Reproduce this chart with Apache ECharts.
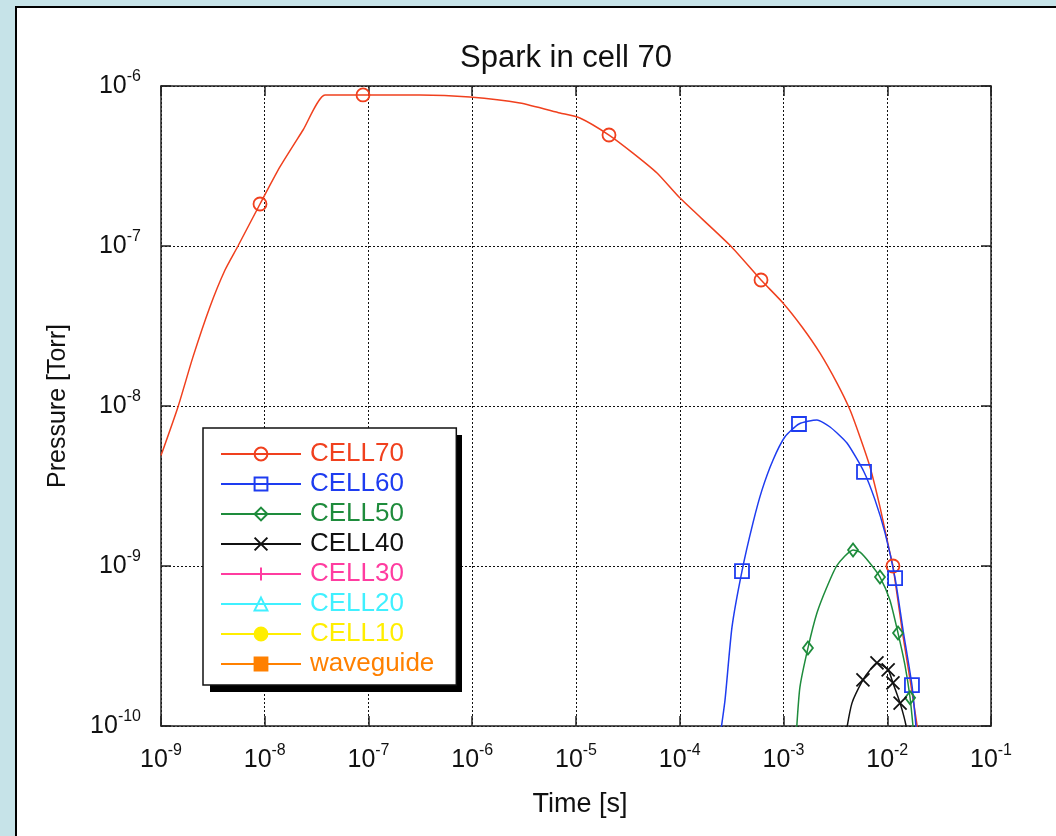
<!DOCTYPE html>
<html>
<head>
<meta charset="utf-8">
<title>Spark in cell 70</title>
<script src="https://cdn.jsdelivr.net/npm/echarts@6/dist/echarts.min.js"></script>
<style>
    html, body { margin: 0; padding: 0; background: #c6e3e8; }
    #chart { width: 1056px; height: 836px; }
</style>
</head>
<body>
<div id="chart"></div>
<script>
// [time s, pressure Torr]
var cell70 = [
    [1.0e-9, 4.9e-9], [1.46e-9, 9.9e-9], [2.03e-9, 2.02e-8], [2.96e-9, 4.16e-8],
    [4.14e-9, 7.08e-8], [5.52e-9, 1.0e-7], [9.0e-9, 1.83e-7], [1.40e-8, 3.12e-7],
    [2.34e-8, 5.31e-7], [3.81e-8, 8.79e-7], [8.85e-8, 8.79e-7], [3.13e-7, 8.8e-7],
    [9.5e-7, 8.54e-7], [2.88e-6, 7.83e-7], [7.01e-6, 6.78e-7], [1.09e-5, 6.31e-7],
    [2.08e-5, 4.94e-7], [3.54e-5, 3.81e-7], [6.04e-5, 2.86e-7], [1.0e-4, 2.0e-7],
    [3.05e-4, 1.01e-7], [6.07e-4, 6.13e-8], [9.88e-4, 4.41e-8], [1.51e-3, 3.12e-8],
    [2.25e-3, 2.14e-8], [3.28e-3, 1.39e-8], [4.38e-3, 9.44e-9], [5.46e-3, 6.40e-9],
    [6.82e-3, 4.16e-9], [8.51e-3, 2.34e-9], [1.06e-2, 1.21e-9], [1.135e-2, 1.0e-9],
    [1.39e-2, 3.98e-10], [1.66e-2, 1.94e-10], [1.94e-2, 1.0e-10], [2.0e-2, 8e-11]
];
var cell60 = [
    [2.47e-4, 9e-11], [2.73e-4, 1.45e-10], [3.19e-4, 4.16e-10], [3.98e-4, 9.3e-10],
    [5.08e-4, 1.86e-9], [6.21e-4, 2.99e-9], [7.93e-4, 4.6e-9], [1.03e-3, 6.40e-9],
    [1.41e-3, 7.72e-9], [2.10e-3, 8.18e-9], [2.81e-3, 7.39e-9], [4.09e-3, 5.87e-9],
    [5.97e-3, 3.87e-9], [7.62e-3, 2.59e-9], [9.52e-3, 1.61e-9], [1.19e-2, 8.41e-10],
    [1.42e-2, 3.98e-10], [1.73e-2, 1.80e-10], [1.89e-2, 1.0e-10], [1.95e-2, 8e-11]
];
var cell50 = [
    [1.33e-3, 9e-11], [1.44e-3, 1.75e-10], [1.72e-3, 3.07e-10], [2.10e-3, 5.08e-10],
    [2.62e-3, 7.39e-10], [3.28e-3, 1.01e-9], [4.68e-3, 1.26e-9], [5.46e-3, 1.22e-9],
    [6.82e-3, 1.04e-9], [8.51e-3, 8.53e-10], [1.06e-2, 6.13e-10], [1.27e-2, 3.81e-10],
    [1.48e-2, 2.41e-10], [1.66e-2, 1.50e-10], [1.77e-2, 1.0e-10], [1.82e-2, 8e-11]
];
var cell40 = [
    [4.0e-3, 9e-11], [4.57e-3, 1.39e-10], [5.83e-3, 1.94e-10], [6.82e-3, 2.24e-10],
    [7.96e-3, 2.48e-10], [1.02e-2, 2.24e-10], [1.135e-2, 1.86e-10], [1.33e-2, 1.39e-10],
    [1.52e-2, 1.0e-10], [1.58e-2, 8e-11]
];
// nothing of these shows above 1e-10
var cell30 = [];
var cell20 = [];
var cell10 = [];
var waveguide = [];

// indices of points that carry a marker
var cell70Marks = [6, 10, 16, 21, 31];
var cell60Marks = [3, 8, 12, 15, 17];
var cell50Marks = [2, 6, 9, 11, 13];
var cell40Marks = [2, 4, 5, 6, 7];

var seriesNames = ['CELL70', 'CELL60', 'CELL50', 'CELL40', 'CELL30', 'CELL20', 'CELL10', 'waveguide'];
var seriesPoints = [cell70, cell60, cell50, cell40, cell30, cell20, cell10, waveguide];
var seriesMarks = [cell70Marks, cell60Marks, cell50Marks, cell40Marks, [], [], [], []];

var xMin = 1e-9, xMax = 1e-1;
var yMin = 1e-10, yMax = 1e-6;

(function (window, document) {
    'use strict';
    var font = '"Liberation Sans", Arial, sans-serif';
    var ink = '#111';

    var style = [
        { color: '#f0401e', symbol: 'circle', size: 13, filled: false },
        { color: '#1e3cf0', symbol: 'rect', size: 14, filled: false },
        { color: '#1e8c3c', symbol: 'diamond', size: [10, 13], filled: false },
        { color: '#111111', symbol: 'path://M0,0L10,10M10,0L0,10', size: 13, filled: false },
        { color: '#ff3ca0', symbol: 'path://M5,0L5,10M0,5L10,5', size: 13, filled: false },
        { color: '#40f0ff', symbol: 'triangle', size: 12, filled: false },
        { color: '#ffee00', symbol: 'circle', size: 12, filled: true },
        { color: '#ff8000', symbol: 'rect', size: 12, filled: true }
    ];

    function buildData(points, marks) {
        return points.map(function (p, i) {
            if (marks.indexOf(i) >= 0) {
                return { value: p };
            }
            return { value: p, symbol: 'none' };
        });
    }

    function powLabel(v) {
        var e = Math.round(Math.log10(v));
        return '{b|10}{s|' + e + '}';
    }

    var labelRich = {
        b: { fontSize: 25, lineHeight: 34, color: ink, fontFamily: font },
        s: { fontSize: 16, lineHeight: 12, verticalAlign: 'top', color: ink, fontFamily: font }
    };

    var axisLine = { show: true, onZero: false, lineStyle: { color: '#222', width: 1.5 } };
    var axisTick = { show: true, inside: true, length: 10, lineStyle: { color: '#222', width: 1.5 } };
    var gridLine = { show: true, lineStyle: { color: ink, width: 1, type: [2, 2] } };

    var series = seriesNames.map(function (name, i) {
        var s = style[i];
        return {
            name: name,
            type: 'line',
            xAxisIndex: 0,
            yAxisIndex: 0,
            data: buildData(seriesPoints[i], seriesMarks[i]),
            symbol: s.symbol,
            symbolSize: s.size,
            showAllSymbol: true,
            smooth: 0.2,
            lineStyle: { color: s.color, width: 1.5 },
            itemStyle: {
                color: s.filled ? s.color : 'rgba(0,0,0,0)',
                borderColor: s.color,
                borderWidth: 1.8
            },
            emphasis: { disabled: true },
            animation: false
        };
    });

    var chart = echarts.init(document.getElementById('chart'));
    chart.setOption({
        animation: false,
        backgroundColor: 'transparent',
        textStyle: { fontFamily: font },
        graphic: [{
            type: 'rect',
            silent: true,
            z: -10,
            shape: { x: 16, y: 7, width: 1060, height: 850 },
            style: { fill: '#fff', stroke: '#000', lineWidth: 2 }
        }, {
            // drop shadow behind the legend box
            type: 'rect',
            silent: true,
            z: 3,
            shape: { x: 210, y: 435, width: 252, height: 257 },
            style: { fill: '#000' }
        }],
        title: {
            text: 'Spark in cell 70',
            left: 455,
            top: 38,
            textStyle: { fontSize: 31, fontWeight: 'normal', color: ink, fontFamily: font }
        },
        grid: { left: 161, right: 65, top: 86, bottom: 110 },
        legend: {
            orient: 'vertical',
            left: 203,
            top: 428,
            z: 4,
            padding: [13, 22, 8, 17],
            itemWidth: 80,
            itemHeight: 16,
            itemGap: 4,
            backgroundColor: '#fff',
            borderColor: ink,
            borderWidth: 1.5,
            borderRadius: 0,
            selectedMode: false,
            textStyle: { fontSize: 26, lineHeight: 24, fontFamily: font, padding: [0, 0, 0, 4] },
            data: seriesNames.map(function (n, i) {
                return { name: n, textStyle: { color: style[i].color } };
            })
        },
        xAxis: [{
            type: 'log',
            logBase: 10,
            min: xMin,
            max: xMax,
            position: 'bottom',
            name: 'Time [s]',
            nameLocation: 'middle',
            nameGap: 65,
            nameTextStyle: { fontSize: 27, color: ink, fontFamily: font, padding: [0, 0, 0, 8] },
            axisLine: axisLine,
            axisTick: axisTick,
            splitLine: gridLine,
            axisLabel: { margin: 17, formatter: powLabel, rich: labelRich }
        }, {
            type: 'log',
            logBase: 10,
            min: xMin,
            max: xMax,
            position: 'top',
            axisLine: axisLine,
            axisTick: axisTick,
            splitLine: { show: false },
            axisLabel: { show: false }
        }],
        yAxis: [{
            type: 'log',
            logBase: 10,
            min: yMin,
            max: yMax,
            position: 'left',
            name: 'Pressure [Torr]',
            nameLocation: 'middle',
            nameGap: 90,
            nameTextStyle: { fontSize: 25, color: ink, fontFamily: font },
            axisLine: axisLine,
            axisTick: axisTick,
            splitLine: gridLine,
            axisLabel: { margin: 20, formatter: powLabel, rich: labelRich }
        }, {
            type: 'log',
            logBase: 10,
            min: yMin,
            max: yMax,
            position: 'right',
            axisLine: axisLine,
            axisTick: axisTick,
            splitLine: { show: false },
            axisLabel: { show: false }
        }],
        series: series
    });
})(window, document);
</script>
</body>
</html>
